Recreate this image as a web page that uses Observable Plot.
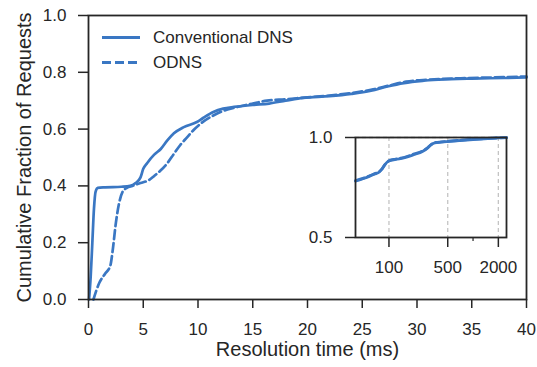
<!DOCTYPE html>
<html>
<head>
<meta charset="utf-8">
<script src="https://cdn.jsdelivr.net/npm/d3@7"></script>
<script src="https://cdn.jsdelivr.net/npm/@observablehq/plot@0.6"></script>
<style>
  html, body { margin: 0; padding: 0; background: white; }
  #wrap { position: relative; width: 537px; height: 367px; font-family: "Liberation Sans", Arial, sans-serif; color: #262626; }
  #inset { position: absolute; left: 305px; top: 127px; }
  #legend { position: absolute; left: 102px; top: 25px; font-size: 17px; }
  .row { display: flex; align-items: center; height: 25px; }
  .row span { margin-left: 13px; line-height: 25px; }
</style>
</head>
<body>
<div id="wrap"></div>
<script>
// ---------- data ----------
const seriesNames = ["Conventional DNS", "ODNS"];
const convX = [0.05, 0.2, 0.35, 0.5, 0.65, 0.85, 1.5, 3.0, 3.8, 4.3, 4.75, 5.0, 5.35, 6.0, 6.6, 7.2, 7.8, 8.7, 9.9, 10.5, 11.4, 12.3, 13.3, 15, 16.5, 18, 19.6, 22, 24, 25.8, 27.3, 28.8, 30.5, 32, 35, 38, 40];
const convY = [0, 0.08, 0.2, 0.32, 0.38, 0.393, 0.395, 0.397, 0.40, 0.41, 0.43, 0.46, 0.48, 0.51, 0.53, 0.56, 0.585, 0.607, 0.625, 0.64, 0.66, 0.672, 0.678, 0.685, 0.69, 0.70, 0.71, 0.716, 0.724, 0.735, 0.75, 0.762, 0.77, 0.774, 0.778, 0.78, 0.782];
const odnsX = [0.45, 1.0, 1.5, 2.0, 2.2, 2.5, 2.8, 3.1, 3.5, 4.0, 4.75, 5.5, 6.0, 6.6, 7.2, 7.8, 8.4, 9.0, 9.6, 10.2, 11.4, 12.3, 13.3, 15, 16.3, 18, 20, 22, 24, 26, 27.5, 29, 31, 34, 37, 40];
const odnsY = [0, 0.06, 0.09, 0.12, 0.17, 0.27, 0.34, 0.378, 0.393, 0.40, 0.41, 0.42, 0.435, 0.455, 0.48, 0.513, 0.545, 0.571, 0.597, 0.618, 0.648, 0.664, 0.675, 0.69, 0.70, 0.705, 0.712, 0.718, 0.727, 0.74, 0.754, 0.767, 0.774, 0.779, 0.782, 0.785];

const insetX = [40, 50, 60, 68, 75, 82, 90, 100, 120, 150, 200, 250, 290, 320, 350, 420, 500, 700, 1000, 1500, 2000, 2500];
const insetConvY = [0.782, 0.795, 0.808, 0.818, 0.824, 0.84, 0.866, 0.882, 0.89, 0.898, 0.915, 0.93, 0.948, 0.965, 0.973, 0.977, 0.98, 0.985, 0.99, 0.995, 0.998, 0.999];
const insetOdnsY = [0.785, 0.797, 0.81, 0.82, 0.826, 0.842, 0.866, 0.884, 0.892, 0.9, 0.918, 0.932, 0.95, 0.966, 0.974, 0.978, 0.981, 0.986, 0.991, 0.995, 0.998, 0.999];

const xTicks = [0, 5, 10, 15, 20, 25, 30, 35, 40];
const yTicks = [0, 0.2, 0.4, 0.6, 0.8, 1.0];
const insetXTicks = [100, 500, 2000];
const insetXMinor = [1000];
const insetYTicks = [0.5, 1.0];
const xLabel = "Resolution time (ms)";
const yLabel = "Cumulative Fraction of Requests";

// ---------- build ----------
const blue = "#3a77c3";
const ink = "#262626";
const font = "'Liberation Sans', Arial, sans-serif";
const conv = convX.map((x, i) => ({x, y: convY[i]}));
const odns = odnsX.map((x, i) => ({x, y: odnsY[i]}));
const iconv = insetX.map((x, i) => ({x, y: insetConvY[i]}));
const iodns = insetX.map((x, i) => ({x, y: insetOdnsY[i]}));

const main = Plot.plot({
  width: 537, height: 367,
  marginLeft: 88, marginRight: 11, marginTop: 15, marginBottom: 68,
  style: {fontFamily: font, fontSize: "17px", color: ink, background: "white"},
  x: {domain: [0, 40]},
  y: {domain: [0, 1]},
  marks: [
    Plot.line(odns, {x: "x", y: "y", stroke: blue, strokeWidth: 2.7, strokeDasharray: "9,4", curve: "monotone-x"}),
    Plot.line(conv, {x: "x", y: "y", stroke: blue, strokeWidth: 2.7, curve: "monotone-x"}),
    Plot.axisX({ticks: xTicks, tickSize: 9, tickPadding: 14, tickFormat: d => String(d), label: null, strokeWidth: 1.5}),
    Plot.axisY({ticks: yTicks, tickSize: 10, tickPadding: 12, tickFormat: d => d.toFixed(1), label: null, strokeWidth: 1.5}),
    Plot.frame({stroke: ink, strokeWidth: 1.8}),
    Plot.text([xLabel], {frameAnchor: "bottom", textAnchor: "middle", lineAnchor: "middle", dy: 50, fontSize: 20, fill: ink}),
    Plot.text([yLabel], {frameAnchor: "left", textAnchor: "middle", lineAnchor: "middle", rotate: -90, dx: -64, fontSize: 20, fill: ink})
  ]
});

const inset = Plot.plot({
  width: 221, height: 150,
  marginLeft: 50, marginRight: 20, marginTop: 10, marginBottom: 40,
  style: {fontFamily: font, fontSize: "17px", color: ink, background: "transparent"},
  x: {type: "log", domain: [40, 2500]},
  y: {domain: [0.5, 1.0]},
  marks: [
    Plot.ruleX(insetXTicks, {stroke: "#c4c4c4", strokeWidth: 1.3, strokeDasharray: "4,3"}),
    Plot.ruleY([1.0], {stroke: "#c4c4c4", strokeWidth: 1.3, strokeDasharray: "4,3"}),
    Plot.line(iodns, {x: "x", y: "y", stroke: blue, strokeWidth: 2.8, strokeDasharray: "9,4", curve: "monotone-x"}),
    Plot.line(iconv, {x: "x", y: "y", stroke: blue, strokeWidth: 2.8, curve: "monotone-x"}),
    Plot.axisX({ticks: insetXTicks, tickSize: 10, tickPadding: 13, tickFormat: d => String(d), label: null, strokeWidth: 1.5}),
    Plot.axisX({ticks: insetXMinor, tickSize: 4, tickFormat: () => "", label: null, strokeWidth: 1.2}),
    Plot.axisY({ticks: insetYTicks, tickSize: 10, tickPadding: 13, tickFormat: d => d.toFixed(1), label: null, strokeWidth: 1.5}),
    Plot.frame({stroke: ink, strokeWidth: 1.8})
  ]
});
inset.id = "inset";

const wrap = document.getElementById("wrap");
wrap.appendChild(main);
wrap.appendChild(inset);

// legend
const legend = document.createElement("div");
legend.id = "legend";
const dashes = [null, "9,4"];
seriesNames.forEach((name, i) => {
  const row = document.createElement("div");
  row.className = "row";
  const svg = d3.create("svg").attr("width", 38).attr("height", 25);
  svg.append("line").attr("x1", 0).attr("x2", 38).attr("y1", 12.5).attr("y2", 12.5)
    .attr("stroke", blue).attr("stroke-width", 2.8)
    .attr("stroke-dasharray", dashes[i]);
  row.appendChild(svg.node());
  const span = document.createElement("span");
  span.textContent = name;
  row.appendChild(span);
  legend.appendChild(row);
});
wrap.appendChild(legend);
</script>
</body>
</html>
